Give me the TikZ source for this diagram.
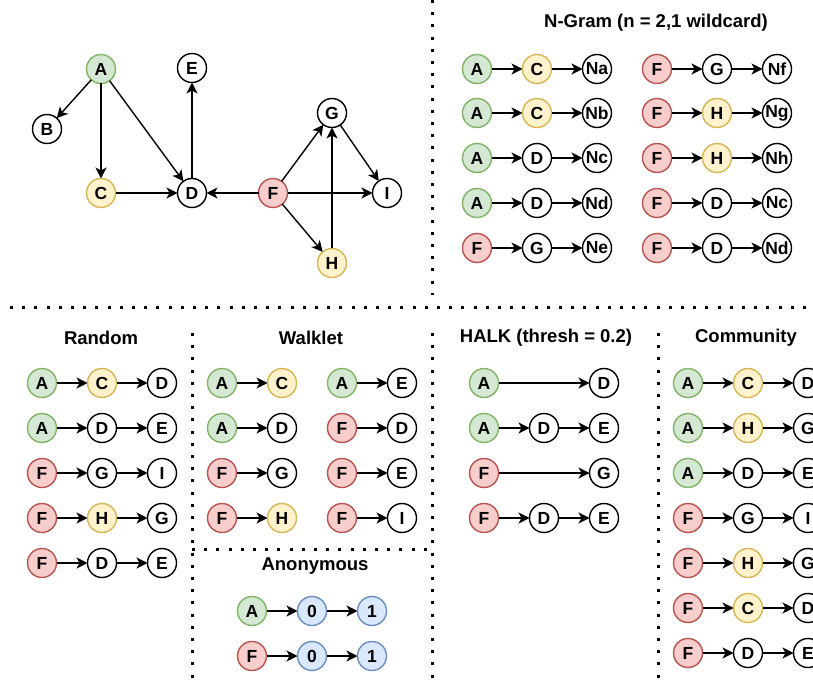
\documentclass[tikz,border=0pt]{standalone}
\usepackage{fontspec}
\setmainfont{Liberation Sans}
\usetikzlibrary{arrows.meta,positioning}
\definecolor{gfill}{HTML}{D5E8D4}\definecolor{gline}{HTML}{82B366}
\definecolor{yfill}{HTML}{FFF2CC}\definecolor{yline}{HTML}{D6B656}
\definecolor{rfill}{HTML}{F8CECC}\definecolor{rline}{HTML}{B85450}
\definecolor{bfill}{HTML}{DAE8FC}\definecolor{bline}{HTML}{6C8EBF}

\begin{document}
\begin{tikzpicture}[x=1pt, y=-1pt,
  font=\fontsize{17.5}{17.5}\selectfont\bfseries,
  vtx/.style={circle, draw=black, fill=white, line width=1.4pt, minimum size=29pt,
              inner sep=0pt, outer sep=0pt},
  gnode/.style={vtx, draw=gline, fill=gfill},
  ynode/.style={vtx, draw=yline, fill=yfill},
  rnode/.style={vtx, draw=rline, fill=rfill},
  bnode/.style={vtx, draw=bline, fill=bfill},
  wnode/.style={vtx},
  ttl/.style={font=\fontsize{18.5}{18.5}\selectfont\bfseries},
  sep/.style={line width=3pt, dash pattern=on 3pt off 9.2pt},
  ar/.style={-{Stealth[length=11pt,width=11pt,inset=3pt]}, line width=1.4pt}
]
\useasboundingbox (0,0) rectangle (813,684);

% the graph
\node[gnode] (A) at (101,69) {A};
\node[wnode] (E) at (192,68) {E};
\node[wnode] (B) at (47,129) {B};
\node[wnode] (G) at (332,113) {G};
\node[ynode] (C) at (101,193) {C};
\node[wnode] (D) at (192,193) {D};
\node[rnode] (F) at (273,193) {F};
\node[wnode] (I) at (387,193) {I};
\node[ynode] (H) at (332,263) {H};

\draw[ar] (A) -- (B);
\draw[ar] (A) -- (C);
\draw[ar] (A) -- (D);
\draw[ar] (C) -- (D);
\draw[ar] (D) -- (E);
\draw[ar] (F) -- (D);
\draw[ar] (F) -- (G);
\draw[ar] (F) -- (I);
\draw[ar] (F) -- (H);
\draw[ar] (H) -- (G);
\draw[ar] (G) -- (I);

% separators
\draw[sep] (432,0) -- (432,295);
\draw[sep] (10,308) -- (813,308);
\draw[sep] (192,333) -- (192,684);
\draw[sep] (432,333) -- (432,684);
\draw[sep] (658,333) -- (658,684);
\draw[sep] (192,549) -- (432,549);

% titles
\node[ttl] (ngt) at (656,23) {N-Gram (n = 2,1 wildcard)};
\node[ttl] (rdt) at (101,338) {Random};
\node[ttl] (wkt) at (311,338) {Walklet};
\node[ttl] (hkt) at (546,338) {HALK (thresh = 0.2)};
\node[ttl] (cmt) at (746,338) {Community};
\node[ttl] (ant) at (315,566) {Anonymous};

% n-gram
\foreach \y/\sa/\la/\sb/\lb/\lc [count=\i] in {69/gnode/A/ynode/C/Na,
    113/gnode/A/ynode/C/Nb, 158/gnode/A/wnode/D/Nc, 203/gnode/A/wnode/D/Nd,
    248/rnode/F/wnode/G/Ne}{
  \node[\sa] (nl-\i-a) at (477,\y) {\la};
  \node[\sb, right=31pt of nl-\i-a] (nl-\i-b) {\lb};
  \node[wnode, right=31pt of nl-\i-b] (nl-\i-c) {\lc};
  \draw[ar] (nl-\i-a) -- (nl-\i-b);
  \draw[ar] (nl-\i-b) -- (nl-\i-c);
}
\foreach \y/\sa/\la/\sb/\lb/\lc [count=\i] in {69/rnode/F/wnode/G/Nf,
    113/rnode/F/ynode/H/Ng, 158/rnode/F/ynode/H/Nh, 203/rnode/F/wnode/D/Nc,
    248/rnode/F/wnode/D/Nd}{
  \node[\sa] (nr-\i-a) at (657,\y) {\la};
  \node[\sb, right=31pt of nr-\i-a] (nr-\i-b) {\lb};
  \node[wnode, right=31pt of nr-\i-b] (nr-\i-c) {\lc};
  \draw[ar] (nr-\i-a) -- (nr-\i-b);
  \draw[ar] (nr-\i-b) -- (nr-\i-c);
}

% random
\foreach \y/\sa/\la/\sb/\lb/\lc [count=\i] in {383/gnode/A/ynode/C/D,
    428/gnode/A/wnode/D/E, 473/rnode/F/wnode/G/I, 518/rnode/F/ynode/H/G,
    563/rnode/F/wnode/D/E}{
  \node[\sa] (rw-\i-a) at (42,\y) {\la};
  \node[\sb, right=31pt of rw-\i-a] (rw-\i-b) {\lb};
  \node[wnode, right=31pt of rw-\i-b] (rw-\i-c) {\lc};
  \draw[ar] (rw-\i-a) -- (rw-\i-b);
  \draw[ar] (rw-\i-b) -- (rw-\i-c);
}

% walklet
\foreach \y/\sa/\la/\sb/\lb [count=\i] in {383/gnode/A/ynode/C,
    428/gnode/A/wnode/D, 473/rnode/F/wnode/G, 518/rnode/F/ynode/H}{
  \node[\sa] (wl-\i-a) at (222,\y) {\la};
  \node[\sb, right=31pt of wl-\i-a] (wl-\i-b) {\lb};
  \draw[ar] (wl-\i-a) -- (wl-\i-b);
}
\foreach \y/\sa/\la/\lb [count=\i] in {383/gnode/A/E, 428/rnode/F/D,
    473/rnode/F/E, 518/rnode/F/I}{
  \node[\sa] (wr-\i-a) at (342,\y) {\la};
  \node[wnode, right=31pt of wr-\i-a] (wr-\i-b) {\lb};
  \draw[ar] (wr-\i-a) -- (wr-\i-b);
}

% anonymous
\foreach \y/\sa/\la [count=\i] in {611/gnode/A, 656/rnode/F}{
  \node[\sa] (an-\i-a) at (252,\y) {\la};
  \node[bnode, right=31pt of an-\i-a] (an-\i-b) {0};
  \node[bnode, right=31pt of an-\i-b] (an-\i-c) {1};
  \draw[ar] (an-\i-a) -- (an-\i-b);
  \draw[ar] (an-\i-b) -- (an-\i-c);
}

% halk
\node[gnode] (hk-1-a) at (484,383) {A};
\node[wnode, right=91pt of hk-1-a] (hk-1-c) {D};
\draw[ar] (hk-1-a) -- (hk-1-c);
\node[gnode] (hk-2-a) at (484,428) {A};
\node[wnode, right=31pt of hk-2-a] (hk-2-b) {D};
\node[wnode, right=31pt of hk-2-b] (hk-2-c) {E};
\draw[ar] (hk-2-a) -- (hk-2-b);
\draw[ar] (hk-2-b) -- (hk-2-c);
\node[rnode] (hk-3-a) at (484,473) {F};
\node[wnode, right=91pt of hk-3-a] (hk-3-c) {G};
\draw[ar] (hk-3-a) -- (hk-3-c);
\node[rnode] (hk-4-a) at (484,518) {F};
\node[wnode, right=31pt of hk-4-a] (hk-4-b) {D};
\node[wnode, right=31pt of hk-4-b] (hk-4-c) {E};
\draw[ar] (hk-4-a) -- (hk-4-b);
\draw[ar] (hk-4-b) -- (hk-4-c);

% community
\foreach \y/\sa/\la/\sb/\lb/\lc [count=\i] in {383/gnode/A/ynode/C/D,
    428/gnode/A/ynode/H/G, 473/gnode/A/wnode/D/E, 518/rnode/F/wnode/G/I,
    563/rnode/F/ynode/H/G, 608/rnode/F/ynode/C/D, 653/rnode/F/wnode/D/E}{
  \node[\sa] (cm-\i-a) at (688,\y) {\la};
  \node[\sb, right=31pt of cm-\i-a] (cm-\i-b) {\lb};
  \node[wnode, right=31pt of cm-\i-b] (cm-\i-c) {\lc};
  \draw[ar] (cm-\i-a) -- (cm-\i-b);
  \draw[ar] (cm-\i-b) -- (cm-\i-c);
}
\end{tikzpicture}
\end{document}
